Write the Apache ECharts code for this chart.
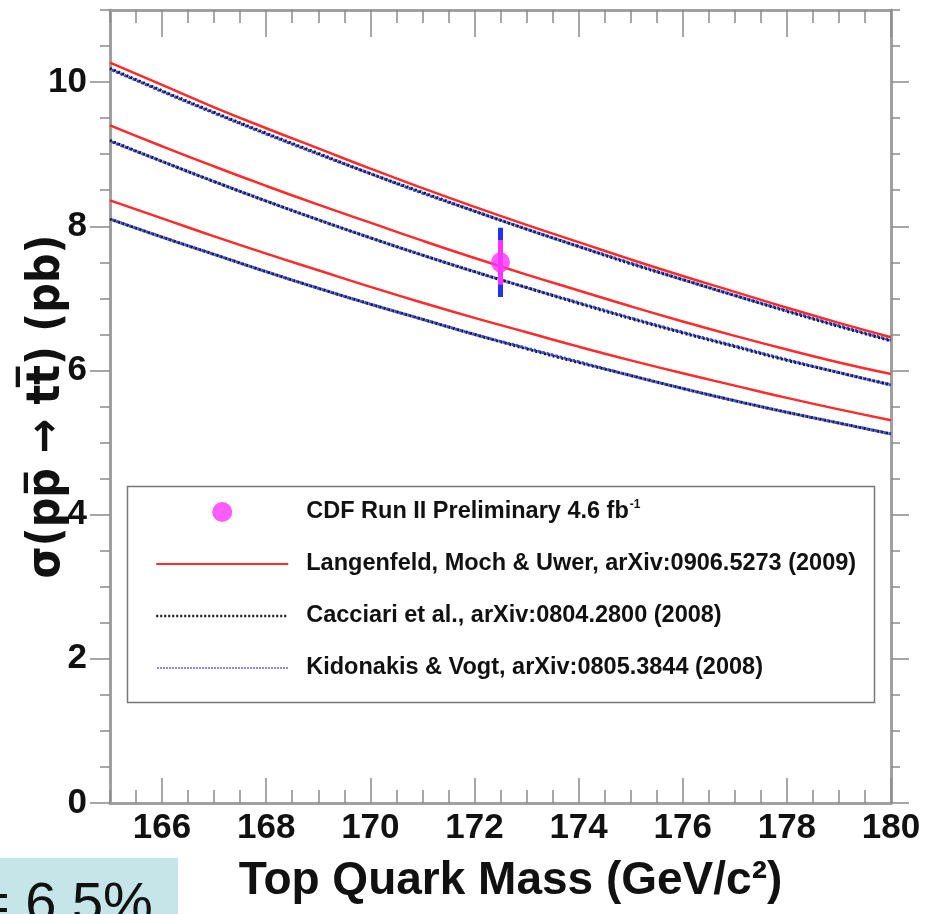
<!DOCTYPE html>
<html>
<head>
<meta charset="utf-8">
<script src="https://cdn.jsdelivr.net/npm/echarts@6/dist/echarts.min.js"></script>
<style>
html,body{margin:0;padding:0;background:#fff;}
#chart{width:930px;height:914px;}
</style>
</head>
<body>
<div id="chart"></div>
<script>
// ---- data ----
const masses = [165,166,167,168,169,170,171,172,173,174,175,176,177,178,179,180];
// Langenfeld, Moch & Uwer (upper, central, lower)
const lmuUpper   = [10.27,9.96,9.65,9.36,9.08,8.80,8.53,8.27,8.02,7.78,7.54,7.31,7.09,6.87,6.66,6.46];
const lmuCentral = [9.40,9.11,8.83,8.56,8.30,8.05,7.80,7.56,7.33,7.11,6.89,6.68,6.48,6.29,6.11,5.95];
const lmuLower   = [8.36,8.11,7.86,7.62,7.39,7.16,6.94,6.73,6.53,6.33,6.14,5.96,5.79,5.62,5.46,5.31];
// Cacciari et al. (upper, central, lower)
const cacUpper   = [10.19,9.88,9.58,9.29,9.01,8.73,8.47,8.21,7.96,7.72,7.48,7.26,7.04,6.82,6.61,6.41];
const cacCentral = [9.19,8.90,8.62,8.35,8.09,7.84,7.60,7.37,7.15,6.93,6.72,6.52,6.33,6.14,5.97,5.80];
const cacLower   = [8.10,7.85,7.61,7.37,7.14,6.92,6.71,6.50,6.30,6.11,5.93,5.75,5.58,5.42,5.27,5.12];
// Kidonakis & Vogt (upper, central, lower)
const kvUpper    = [10.18,9.87,9.57,9.28,9.00,8.73,8.46,8.21,7.96,7.72,7.49,7.26,7.04,6.83,6.62,6.42];
const kvCentral  = [9.18,8.90,8.62,8.35,8.09,7.84,7.60,7.37,7.15,6.94,6.73,6.53,6.34,6.15,5.97,5.80];
const kvLower    = [8.10,7.85,7.61,7.37,7.14,6.92,6.71,6.50,6.31,6.12,5.93,5.75,5.58,5.42,5.27,5.12];
// CDF measurement
const cdfMass = [172.5];
const cdfXsec = [7.50];
const cdfStatErr = [0.31];
const cdfTotErr = [0.48];
// ticks
const xMajorTicks = [166,168,170,172,174,176,178,180];
const xMinorTicks = [165,165.5,166,166.5,167,167.5,168,168.5,169,169.5,170,170.5,171,171.5,172,172.5,173,173.5,174,174.5,175,175.5,176,176.5,177,177.5,178,178.5,179,179.5,180];
const yMajorTicks = [0,2,4,6,8,10];
const yMinorTicks = [0,0.5,1,1.5,2,2.5,3,3.5,4,4.5,5,5.5,6,6.5,7,7.5,8,8.5,9,9.5,10,10.5,11];
// text
const NAME_CDF = 'CDF Run II Preliminary 4.6 fb-1';
const NAME_LMU = 'Langenfeld, Moch & Uwer, arXiv:0906.5273 (2009)';
const NAME_CAC = 'Cacciari et al., arXiv:0804.2800 (2008)';
const NAME_KV  = 'Kidonakis & Vogt, arXiv:0805.3844 (2008)';
const xTitle = 'Top Quark Mass (GeV/c\u00B2)';
const yTitle = '\u03C3(pp\u0305 \u2192 tt\u0305) (pb)';
const cornerText = '= 6.5%';

// ---- chart ----
const FONT = "'Liberation Sans',Arial,sans-serif";
const TFONT = "'DejaVu Sans Condensed','DejaVu Sans',sans-serif";
const AX = '#a0a0a0', TK = '#8a8a8a';
const zip = (xs, ys) => xs.map((x, i) => [x, ys[i]]);

function xAx(pos, ticks, len, showLine, showLabel) {
  return {
    type: 'value', position: pos, min: 165, max: 180, interval: 0.5,
    axisLine: {show: showLine, onZero: false, lineStyle: {color: AX, width: 3}},
    axisTick: {show: true, inside: true, length: len, customValues: ticks, lineStyle: {color: TK, width: 1.5}},
    axisLabel: showLabel ? {show: true, customValues: xMajorTicks, margin: 8, color: '#111',
      fontFamily: FONT, fontWeight: 'bold', fontSize: 35} : {show: false},
    splitLine: {show: false},
    name: showLabel ? xTitle : '', nameLocation: 'middle', nameGap: 55, nameMoveOverlap: false,
    nameTextStyle: {fontFamily: FONT, fontWeight: 'bold', fontSize: 46, color: '#111', padding: [0,0,0,20]}
  };
}
function yAx(pos, ticks, len, showLine, showLabel) {
  return {
    type: 'value', position: pos, min: 0, max: 11, interval: 0.5,
    axisLine: {show: showLine, onZero: false, lineStyle: {color: AX, width: 3}},
    axisTick: {show: true, inside: false, length: len, customValues: ticks, lineStyle: {color: TK, width: 1.5}},
    axisLabel: showLabel ? {show: true, customValues: yMajorTicks, margin: 23, color: '#111',
      fontFamily: FONT, fontWeight: 'bold', fontSize: 35} : {show: false},
    splitLine: {show: false},
    name: showLabel ? yTitle : '', nameLocation: 'middle', nameGap: 40, nameRotate: 90, nameMoveOverlap: false,
    nameTextStyle: {fontFamily: TFONT, fontWeight: 'bold', fontSize: 46, color: '#111'}
  };
}

const redStyle = {color: '#ff2a2a', width: 2.5};
const blackStyle = {color: '#1a1a1a', width: 3, type: [2, 2.5]};
const blueStyle = {color: '#3344ff', width: 3, type: [2.5, 2], dashOffset: 2.2};

function lineSeries(name, ys, style, z) {
  return {type: 'line', name: name, data: zip(masses, ys), showSymbol: false, symbol: 'none',
    lineStyle: style, itemStyle: {color: style.color}, smooth: true, z: z, silent: true};
}

const series = [
  lineSeries(NAME_KV, kvUpper, blueStyle, 2),
  lineSeries(NAME_KV, kvCentral, blueStyle, 2),
  lineSeries(NAME_KV, kvLower, blueStyle, 2),
  lineSeries(NAME_CAC, cacUpper, blackStyle, 3),
  lineSeries(NAME_CAC, cacCentral, blackStyle, 3),
  lineSeries(NAME_CAC, cacLower, blackStyle, 3),
  lineSeries(NAME_LMU, lmuUpper, redStyle, 4),
  lineSeries(NAME_LMU, lmuCentral, redStyle, 4),
  lineSeries(NAME_LMU, lmuLower, redStyle, 4),
  {type: 'line', name: 'total error', showSymbol: false, symbol: 'none', z: 5,
    data: [[cdfMass[0], cdfXsec[0] - cdfTotErr[0]], [cdfMass[0], cdfXsec[0] + cdfTotErr[0]]],
    lineStyle: {color: '#2233ee', width: 5}},
  {type: 'line', name: 'stat error', showSymbol: false, symbol: 'none', z: 6,
    data: [[cdfMass[0], cdfXsec[0] - cdfStatErr[0]], [cdfMass[0], cdfXsec[0] + cdfStatErr[0]]],
    lineStyle: {color: '#ff33ff', width: 5}},
  {type: 'scatter', name: NAME_CDF, data: zip(cdfMass, cdfXsec), symbol: 'circle', symbolSize: [19, 20],
    itemStyle: {color: '#ff33ff'}, z: 7}
];

const noSym = {opacity: 0, borderWidth: 0};
const chart = echarts.init(document.getElementById('chart'), null, {renderer: 'canvas'});
chart.setOption({
  animation: false,
  backgroundColor: '#ffffff',
  grid: {left: 110, right: 39, top: 10, bottom: 111, containLabel: false, outerBoundsMode: 'none'},
  xAxis: [
    xAx('bottom', xMajorTicks, 25, true, true),
    xAx('bottom', xMinorTicks, 13, false, false),
    xAx('top', xMajorTicks, 27, true, false),
    xAx('top', xMinorTicks, 13, false, false)
  ],
  yAxis: [
    yAx('left', yMajorTicks, 20, true, true),
    yAx('left', yMinorTicks, 10, false, false),
    yAx('right', yMajorTicks, 18, true, false),
    yAx('right', yMinorTicks, 9, false, false)
  ],
  legend: {
    orient: 'vertical', left: 155, top: 499,
    itemWidth: 132, itemHeight: 20, itemGap: 26, padding: 0,
    data: [
      {name: NAME_CDF, icon: 'circle'},
      {name: NAME_LMU, itemStyle: noSym},
      {name: NAME_CAC, itemStyle: noSym, lineStyle: {color: '#1a1a1a', width: 2.5, type: [2, 2]}},
      {name: NAME_KV, itemStyle: noSym, lineStyle: {color: '#8888ff', width: 2, type: [2, 1]}}
    ],
    formatter: n => n === NAME_CDF ? 'CDF Run II Preliminary 4.6 fb{sup|-1}' : n,
    textStyle: {fontFamily: FONT, fontWeight: 'bold', fontSize: 23.5, lineHeight: 26, color: '#111',
      padding: [0, 0, 0, 13],
      rich: {sup: {fontFamily: FONT, fontWeight: 'bold', fontSize: 12, color: '#111', verticalAlign: 'top', padding: [0, 0, 11, 1]}}},
    selectedMode: false
  },
  graphic: [
    {type: 'rect', left: 125, top: 484, shape: {width: 747, height: 216},
      style: {fill: 'none', stroke: '#777', lineWidth: 1.5}, z: 1},
    {type: 'rect', left: 0, top: 858, shape: {width: 178, height: 56},
      style: {fill: '#c5e5e8'}, z: 1},
    {type: 'text', x: -23, y: 878, z: 2,
      style: {text: cornerText, fontFamily: "'Liberation Sans',Arial,sans-serif", fontSize: 56, fill: '#111'}}
  ],
  series: series
});
</script>
</body>
</html>
